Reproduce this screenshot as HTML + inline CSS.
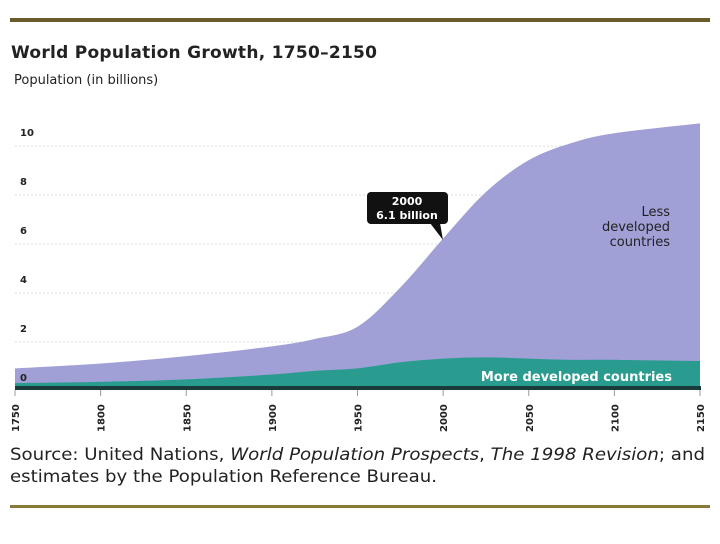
<!DOCTYPE html>
<html><head><meta charset="utf-8"><style>
body{margin:0;background:#fff;width:720px;height:540px;overflow:hidden;font-family:"DejaVu Sans","Liberation Sans",sans-serif}
</style></head><body>
<svg width="720" height="540" xmlns="http://www.w3.org/2000/svg">
<rect x="10" y="18" width="700" height="4" fill="#6b5a2a"/>
<rect x="10" y="505" width="700" height="3" fill="#8a7a3a"/>
<text x="11" y="58" font-size="17" font-weight="bold" fill="#222" textLength="366">World Population Growth, 1750–2150</text>
<text x="14" y="84" font-size="13" fill="#222">Population (in billions)</text>
<g id="grid"></g>
<g id="areas"></g>
<g id="yticks"></g>
<g id="xticks"></g>
<rect x="15" y="386" width="686" height="4" fill="#1b3a3a"/>
<g>
<rect x="367" y="192" width="81" height="32" rx="4" fill="#111"/>
<path d="M430 223 L443 240 L440 223 Z" fill="#111"/>
<text x="407" y="205" font-size="11" font-weight="bold" fill="#fff" text-anchor="middle">2000</text>
<text x="407" y="219" font-size="11" font-weight="bold" fill="#fff" text-anchor="middle">6.1 billion</text>
</g>
<g font-size="13" fill="#222" text-anchor="end">
<text x="670" y="216">Less</text><text x="670" y="231">developed</text><text x="670" y="246">countries</text>
</g>
<text x="672" y="381" font-size="13" font-weight="bold" fill="#fff" text-anchor="end">More developed countries</text>
<text x="10" y="460" font-size="17" fill="#222" textLength="695" lengthAdjust="spacingAndGlyphs">Source: United Nations, <tspan font-style="italic">World Population Prospects</tspan>, <tspan font-style="italic">The 1998 Revision</tspan>; and</text>
<text x="10" y="482" font-size="17" fill="#222" textLength="427" lengthAdjust="spacingAndGlyphs">estimates by the Population Reference Bureau.</text>
</svg>
<script>
const years=[1750,1800,1850,1900,1925,1950,1975,2000,2025,2050,2075,2100,2150];
const totalPop=[0.8,1.0,1.3,1.7,2.0,2.5,4.1,6.1,8.0,9.3,10.0,10.4,10.8];
const moreDevPop=[0.2,0.25,0.35,0.55,0.7,0.8,1.05,1.2,1.25,1.2,1.15,1.15,1.1];
const yTicks=[0,2,4,6,8,10];
const xTicks=[1750,1800,1850,1900,1950,2000,2050,2100,2150];
const NS="http://www.w3.org/2000/svg";
const X=y=>15+(y-1750)*(685/400);
const Y=v=>388-v*24.5;
function areaPath(top){
  const P=years.map((yr,i)=>[X(yr),Y(top[i])]);
  let d="M"+P[0][0]+" "+P[0][1];
  for(let i=0;i<P.length-1;i++){
    const p0=P[Math.max(0,i-1)],p1=P[i],p2=P[i+1],p3=P[Math.min(P.length-1,i+2)];
    const c1x=p1[0]+(p2[0]-p0[0])/6,c1y=p1[1]+(p2[1]-p0[1])/6;
    const c2x=p2[0]-(p3[0]-p1[0])/6,c2y=p2[1]-(p3[1]-p1[1])/6;
    d+=" C"+c1x+" "+c1y+" "+c2x+" "+c2y+" "+p2[0]+" "+p2[1];
  }
  d+=" L"+X(years[years.length-1])+" "+Y(0)+" L"+X(years[0])+" "+Y(0);
  return d+" Z";
}
const grid=document.getElementById('grid');
yTicks.forEach(t=>{if(t===0)return;
  const l=document.createElementNS(NS,'line');
  
  
  l.setAttribute('x1',15);l.setAttribute('x2',700);l.setAttribute('y1',Y(t)+3);l.setAttribute('y2',Y(t)+3);
  l.setAttribute('stroke','#ddd');l.setAttribute('stroke-dasharray','2,2');grid.appendChild(l);});
const areas=document.getElementById('areas');
const p1=document.createElementNS(NS,'path');


p1.setAttribute('d',areaPath(totalPop));p1.setAttribute('fill','#a09fd6');areas.appendChild(p1);
const p2=document.createElementNS(NS,'path');


p2.setAttribute('d',areaPath(moreDevPop));p2.setAttribute('fill','#2a9c8f');areas.appendChild(p2);
const yt=document.getElementById('yticks');
yTicks.forEach(t=>{const tx=document.createElementNS(NS,'text');
  
  
  tx.setAttribute('x',20);tx.setAttribute('y',Y(t)-7);tx.setAttribute('font-size','10');tx.setAttribute('font-weight','bold');tx.setAttribute('fill','#222');
  tx.textContent=t;yt.appendChild(tx);});
const xt=document.getElementById('xticks');
xTicks.forEach(t=>{const x=X(t);
  const l=document.createElementNS(NS,'line');
  
  
  l.setAttribute('x1',x);l.setAttribute('x2',x);l.setAttribute('y1',390);l.setAttribute('y2',396);l.setAttribute('stroke','#999');xt.appendChild(l);
  const tx=document.createElementNS(NS,'text');
  
  
  tx.setAttribute('transform','translate('+(x+4)+',432) rotate(-90)');tx.setAttribute('font-size','10');tx.setAttribute('font-weight','bold');tx.setAttribute('fill','#222');
  tx.textContent=t;xt.appendChild(tx);});
</script>
</body></html>
